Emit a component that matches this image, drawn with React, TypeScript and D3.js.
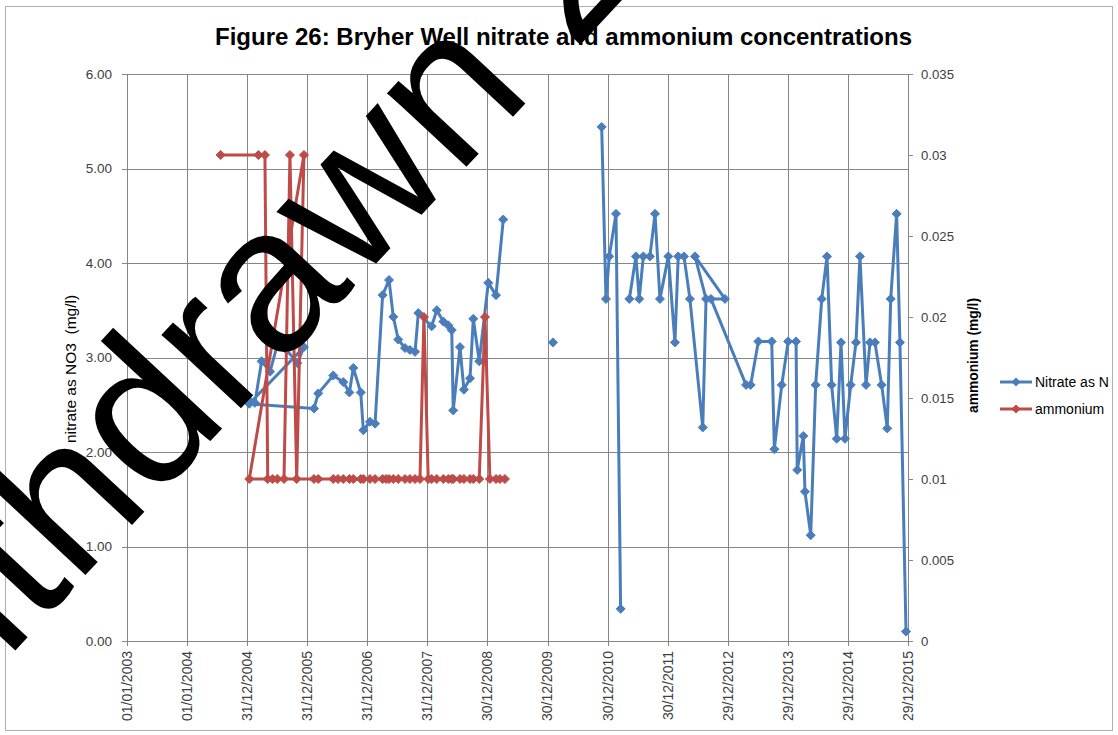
import React from 'react';
import * as d3 from 'd3';

const title = 'Figure 26: Bryher Well nitrate and ammonium concentrations';
const leftAxisTitle = 'nitrate as NO3  (mg/l)';
const rightAxisTitle = 'ammonium (mg/l)';
const watermark = 'Withdrawn 2016';

const tickLabels = ['01/01/2003', '01/01/2004', '31/12/2004', '31/12/2005', '31/12/2006', '31/12/2007', '30/12/2008', '30/12/2009', '30/12/2010', '30/12/2011', '29/12/2012', '29/12/2013', '29/12/2014', '29/12/2015'];
const leftTicks = [0, 1, 2, 3, 4, 5, 6];
const rightTicks = [0, 0.005, 0.01, 0.015, 0.02, 0.025, 0.03, 0.035];

const seriesNames = ['Nitrate as N', 'ammonium'];

const nitrateDates = [
  '23/07/2004', '16/02/2005', '29/03/2005', '19/05/2005', '08/07/2005', '28/08/2005', '01/11/2005', '11/12/2005',
  '13/01/2005', '10/02/2006', '08/03/2006', '07/06/2006', '07/08/2006', '13/09/2006', '07/10/2006', '21/11/2006',
  '07/12/2006', '16/01/2007', '16/02/2007', '03/04/2007', '12/05/2007', '07/06/2007', '07/07/2007', '17/08/2007',
  '16/09/2007', '17/10/2007', '06/11/2007', '26/01/2008', '26/02/2008', '06/04/2008', '06/05/2008', '27/05/2008',
  '05/06/2008', '16/07/2008', '09/08/2008', '15/09/2008', '05/10/2008', '10/11/2008', '04/01/2009', '20/02/2009',
  '05/04/2009', '01/07/2009', '01/02/2010', '01/06/2010', '24/11/2010', '20/12/2010', '09/01/2011', '19/02/2011',
  '19/03/2011', '15/04/2011', '11/05/2011', '20/06/2011', '10/07/2011', '04/08/2011', '13/09/2011', '14/10/2011',
  '13/11/2011', '03/01/2012', '12/02/2012', '03/03/2012', '07/04/2012', '13/05/2012', '30/07/2012', '19/08/2012',
  '13/06/2012', '12/12/2012', '18/09/2012', '19/04/2013', '17/05/2013', '03/07/2013', '22/09/2013', '08/10/2013',
  '22/11/2013', '31/12/2013', '17/02/2014', '24/02/2014', '02/04/2014', '12/04/2014', '17/05/2014', '16/06/2014',
  '23/07/2014', '24/08/2014', '21/09/2014', '22/10/2014', '17/11/2014', '11/12/2014', '15/01/2015', '16/02/2015',
  '12/03/2015', '18/04/2015', '12/05/2015', '11/06/2015', '22/07/2015', '25/08/2015', '15/09/2015', '21/10/2015',
  '10/11/2015', '17/12/2015'
];
const nitrateValues: (number | null)[] = [
  2.86, 2.52, 2.96, 2.85, 3.17, 3.08, 2.94, 3.11,
  2.51, 2.46, 2.62, 2.81, 2.74, 2.63, 2.89, 2.63,
  2.23, 2.32, 2.30, 3.66, 3.82, 3.43, 3.19, 3.10,
  3.08, 3.06, 3.47, 3.33, 3.50, 3.38, 3.34, 3.29,
  2.44, 3.11, 2.66, 2.78, 3.41, 2.96, 3.79, 3.66,
  4.46, null, 3.16, null, 5.44, 3.62, 4.07, 4.52,
  0.34, null, 3.62, 4.07, 3.62, 4.07, 4.07, 4.52,
  3.62, 4.07, 3.16, 4.07, 4.07, 3.62, 2.26, 3.62,
  4.07, 3.62, 3.62, 2.71, 2.71, 3.17, 3.17, 2.03,
  2.71, 3.17, 3.17, 1.81, 2.17, 1.58, 1.12, 2.71,
  3.62, 4.07, 2.71, 2.14, 3.16, 2.14, 2.71, 3.16,
  4.07, 2.71, 3.16, 3.16, 2.71, 2.25, 3.62, 4.52,
  3.16, 0.10
];

const ammoniumDates = [
  '23/07/2004', '09/03/2005', '18/04/2005', '05/05/2005', '04/06/2005', '02/07/2005', '12/08/2005', '17/09/2005',
  '28/10/2005', '11/12/2005', '13/01/2005', '10/02/2006', '08/03/2006', '07/06/2006', '06/07/2006', '07/08/2006',
  '13/09/2006', '07/10/2006', '21/11/2006', '07/12/2006', '16/01/2007', '16/02/2007', '03/04/2007', '24/04/2007',
  '12/05/2007', '07/06/2007', '07/07/2007', '17/08/2007', '16/09/2007', '17/10/2007', '16/11/2007', '10/12/2007',
  '05/01/2008', '26/01/2008', '26/02/2008', '06/04/2008', '06/05/2008', '27/05/2008', '05/06/2008', '16/07/2008',
  '09/08/2008', '15/09/2008', '05/10/2008', '10/11/2008', '15/12/2008', '14/01/2009', '20/02/2009', '16/03/2009',
  '15/04/2009'
];
const ammoniumValues = [
  0.03, 0.03, 0.03, 0.01, 0.01, 0.01, 0.01, 0.03,
  0.01, 0.03, 0.01, 0.01, 0.01, 0.01, 0.01, 0.01,
  0.01, 0.01, 0.01, 0.01, 0.01, 0.01, 0.01, 0.01,
  0.01, 0.01, 0.01, 0.01, 0.01, 0.01, 0.01, 0.02,
  0.01, 0.01, 0.01, 0.01, 0.01, 0.01, 0.01, 0.01,
  0.01, 0.01, 0.01, 0.01, 0.02, 0.01, 0.01, 0.01,
  0.01
];

const BLUE = '#4a7ebb';
const RED = '#be4b48';
const GRID = '#868686';
const FONT = '"Liberation Sans", Arial, sans-serif';

const W = 1118;
const H = 735;
const M = { left: 127, right: 908, top: 74, bottom: 641 };

const parse = d3.utcParse('%d/%m/%Y');

type Pt = { d: Date; v: number | null };

function diamond(x: number, y: number, r: number) {
  return `M${x},${y - r}L${x + r},${y}L${x},${y + r}L${x - r},${y}Z`;
}

export default function App() {
  const tickDates = tickLabels.map((t) => parse(t) as Date);
  const x = d3.scaleUtc().domain([tickDates[0], tickDates[tickDates.length - 1]]).range([M.left, M.right]);
  const yL = d3.scaleLinear().domain([0, 6]).range([M.bottom, M.top]);
  const yR = d3.scaleLinear().domain([0, 0.035]).range([M.bottom, M.top]);

  const nitrate: Pt[] = nitrateDates.map((s, i) => ({ d: parse(s) as Date, v: nitrateValues[i] }));
  const ammonium: Pt[] = ammoniumDates.map((s, i) => ({ d: parse(s) as Date, v: ammoniumValues[i] }));

  const lineL = d3.line<Pt>().defined((p) => p.v !== null).x((p) => x(p.d)).y((p) => yL(p.v as number));
  const lineR = d3.line<Pt>().defined((p) => p.v !== null).x((p) => x(p.d)).y((p) => yR(p.v as number));

  const legendY = [382, 409];
  const legendColors = [BLUE, RED];

  return (
    <svg width={W} height={H} style={{ position: 'absolute', left: 0, top: 0, background: '#fff' }} fontFamily={FONT}>
      <rect x={0} y={0} width={W} height={H} fill="#fff" />
      <rect x={5.5} y={6.5} width={1107} height={724} fill="none" stroke="#b0b0b0" strokeWidth={1} />
      <text x={563.5} y={45} textAnchor="middle" fontSize={24} fontWeight="bold" fill="#000">{title}</text>

      {leftTicks.map((t) => (
        <line key={'h' + t} x1={M.left - 5} x2={M.right} y1={Math.round(yL(t)) + 0.5} y2={Math.round(yL(t)) + 0.5} stroke={GRID} strokeWidth={1} />
      ))}
      {tickDates.map((d, i) => (
        <line key={'v' + i} x1={Math.round(x(d)) + 0.5} x2={Math.round(x(d)) + 0.5} y1={M.top} y2={M.bottom + 5} stroke={GRID} strokeWidth={1} />
      ))}
      {rightTicks.map((t, i) => (
        <line key={'rt' + i} x1={M.right} x2={M.right + 5} y1={Math.round(yR(t)) + 0.5} y2={Math.round(yR(t)) + 0.5} stroke={GRID} strokeWidth={1} />
      ))}
      <line x1={M.right + 0.5} x2={M.right + 0.5} y1={M.top} y2={M.bottom} stroke={GRID} strokeWidth={1} />

      {leftTicks.map((t) => (
        <text key={'lt' + t} x={112} y={yL(t)} dy="0.35em" textAnchor="end" fontSize={13.5} fill="#404040">{t.toFixed(2)}</text>
      ))}
      {rightTicks.map((t, i) => (
        <text key={'rl' + i} x={921} y={yR(t)} dy="0.35em" textAnchor="start" fontSize={13.2} fill="#404040">{String(+t.toFixed(3))}</text>
      ))}
      {tickDates.map((d, i) => (
        <text key={'xl' + i} transform={`translate(${x(d)},${651}) rotate(-90)`} dy="0.35em" textAnchor="end" fontSize={14} fill="#404040">{tickLabels[i]}</text>
      ))}

      <text transform={`translate(71,369) rotate(-90)`} dy="0.35em" textAnchor="middle" fontSize={15.5} fill="#000" style={{ whiteSpace: 'pre' }}>{leftAxisTitle}</text>
      <text transform={`translate(973,355.5) rotate(-90)`} dy="0.35em" textAnchor="middle" fontSize={13.8} fontWeight="bold" fill="#000">{rightAxisTitle}</text>

      <path d={lineL(nitrate) || ''} fill="none" stroke={BLUE} strokeWidth={3} strokeLinejoin="round" />
      {nitrate.filter((p) => p.v !== null).map((p, i) => (
        <path key={'nm' + i} d={diamond(x(p.d), yL(p.v as number), 4.5)} fill={BLUE} stroke={BLUE} strokeWidth={1} />
      ))}
      <path d={lineR(ammonium) || ''} fill="none" stroke={RED} strokeWidth={3} strokeLinejoin="round" />
      {ammonium.map((p, i) => (
        <path key={'am' + i} d={diamond(x(p.d), yR(p.v as number), 4.5)} fill={RED} stroke={RED} strokeWidth={1} />
      ))}

      {seriesNames.map((n, i) => (
        <g key={'lg' + i}>
          <line x1={1000} x2={1032} y1={legendY[i]} y2={legendY[i]} stroke={legendColors[i]} strokeWidth={3} />
          <path d={diamond(1016, legendY[i], 4.5)} fill={legendColors[i]} />
          <text x={1035} y={legendY[i]} dy="0.35em" fontSize={14} fill="#000">{n}</text>
        </g>
      ))}

      <text transform={`translate(-126,802) rotate(-47)`} fontSize={205} fill="#000" fontFamily={FONT}>{watermark}</text>
    </svg>
  );
}
